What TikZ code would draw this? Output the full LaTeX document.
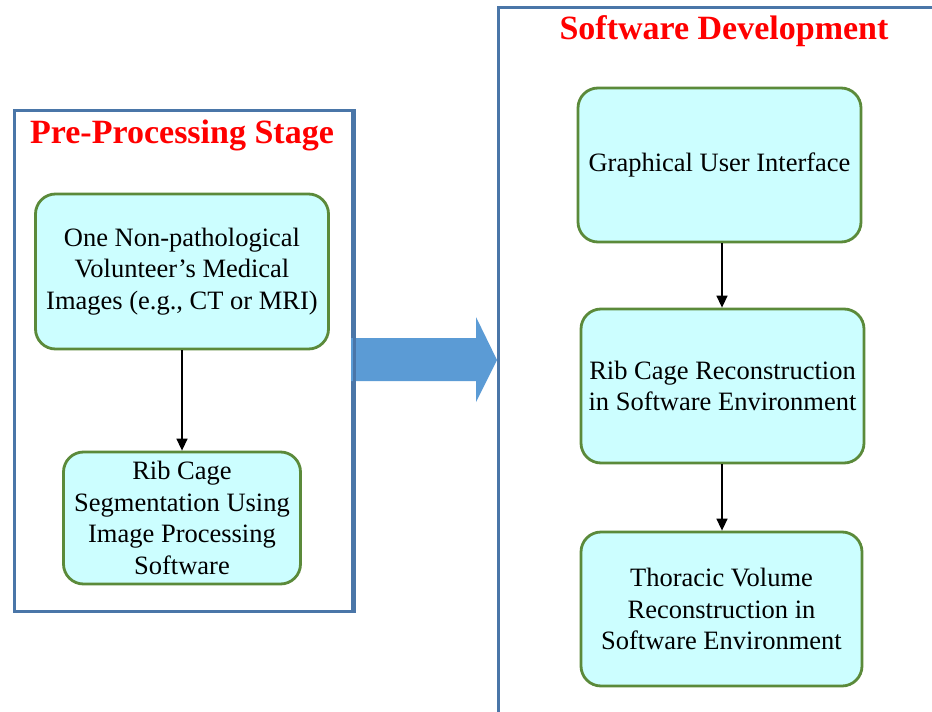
\documentclass[tikz,border=0pt]{standalone}
\usepackage{fontspec}
\setmainfont{Liberation Serif}
\usetikzlibrary{arrows.meta}
\definecolor{panelblue}{HTML}{4A76A8}
\definecolor{boxfill}{HTML}{CCFEFF}
\definecolor{boxgreen}{HTML}{5B8A3A}
\definecolor{bigarrow}{HTML}{5B9BD5}
\definecolor{titlered}{HTML}{FF0000}
\tikzset{
  panel/.style={draw=panelblue, line width=3pt, fill=white},
  procbox/.style={draw=boxgreen, fill=boxfill, line width=2.8pt, rounded corners=20pt,
    align=center, inner sep=0pt, font=\fontsize{26.5}{31.5}\selectfont},
  paneltitle/.style={text=titlered, font=\fontsize{34}{40}\selectfont\bfseries, inner sep=0pt},
  flow/.style={line width=1.5pt, -{Triangle[width=11pt,length=12pt]}},
}
\begin{document}
\begin{tikzpicture}[x=1pt,y=-1pt]
\useasboundingbox (0,0) rectangle (932,712);
\clip (0,0) rectangle (932,712);
\fill[white] (0,0) rectangle (932,712);
% panels
\node[panel, minimum width=338pt, minimum height=501pt, anchor=north west] (left) at (13,109) {};
\node[panel, minimum width=480pt, minimum height=760pt, anchor=north west] (right) at (497,6) {};
% big arrow
\fill[bigarrow] (351,338) -- (476,338) -- (476,317) -- (497,360) -- (476,402) -- (476,381) -- (351,381) -- cycle;
\draw[panelblue, line width=3pt] (left.north east) -- (left.south east);
% titles
\node[paneltitle] (t1) at (182,135) {Pre-Processing Stage};
\node[paneltitle] (t2) at (724,31) {Software Development};
% boxes
\node[procbox, minimum width=293pt, minimum height=155pt] (a1) at (182,271.5)
  {One Non-pathological\\Volunteer’s Medical\\Images (e.g., CT or MRI)};
\node[procbox, minimum width=237pt, minimum height=132pt] (a2) at (182,518)
  {Rib Cage\\Segmentation Using\\Image Processing\\Software};
\node[procbox, minimum width=283pt, minimum height=154pt] (b1) at (719.5,165)
  {Graphical User Interface};
\node[procbox, minimum width=283pt, minimum height=154pt] (b2) at (722.5,386)
  {Rib Cage Reconstruction\\in Software Environment};
\node[procbox, minimum width=281pt, minimum height=154pt] (b3) at (721.5,609)
  {Thoracic Volume\\Reconstruction in\\Software Environment};
% connectors
\draw[flow] (a1.south) -- (a2.north);
\draw[flow] (b1.south -| 722,0) -- (b2.north -| 722,0);
\draw[flow] (b2.south -| 722,0) -- (b3.north -| 722,0);
\end{tikzpicture}
\end{document}
